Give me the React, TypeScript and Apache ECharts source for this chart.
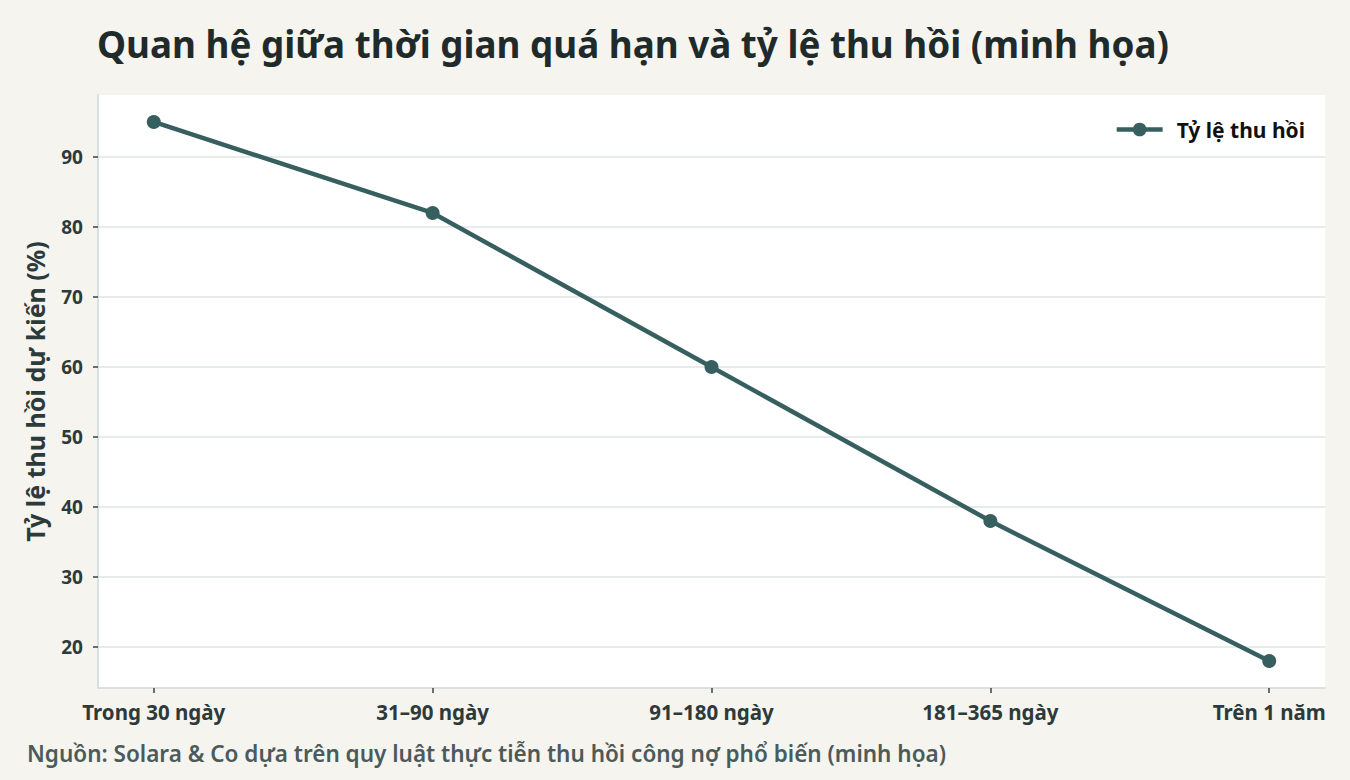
import React, { useEffect, useRef } from "react";
import * as echarts from "echarts";

const categories = ["Trong 30 ngày", "31–90 ngày", "91–180 ngày", "181–365 ngày", "Trên 1 năm"];
const recoveryRates = [95, 82, 60, 38, 18];
const yTicks = [20, 30, 40, 50, 60, 70, 80, 90];
const xTicks = [0, 1, 2, 3, 4];

const TITLE = "Quan hệ giữa thời gian quá hạn và tỷ lệ thu hồi (minh họa)";
const SOURCE = "Nguồn: Solara & Co dựa trên quy luật thực tiễn thu hồi công nợ phổ biến (minh họa)";
const SERIES_NAME = "Tỷ lệ thu hồi";
const Y_NAME = "Tỷ lệ thu hồi dự kiến (%)";

const FONT = "'Noto Sans', sans-serif";

export default function App() {
  const ref = useRef<HTMLDivElement>(null);
  useEffect(() => {
    document.body.style.margin = "0";
    if (!ref.current) return;
    const chart = echarts.init(ref.current, undefined, { renderer: "svg" });
    const data = recoveryRates.map((v, i) => [i, v]);
    chart.setOption({
      animation: false,
      backgroundColor: "#f5f4ef",
      textStyle: { fontFamily: FONT },
      title: {
        text: TITLE,
        left: 92,
        top: 20,
        textStyle: { fontFamily: FONT, fontSize: 36.8, fontWeight: "bold", color: "#1f2b2b" },
      },
      graphic: [
        {
          type: "text",
          left: 27,
          top: 742,
          style: { text: SOURCE, font: `600 22.5px ${FONT}`, fill: "#4b5a5a" },
        },
      ],
      legend: {
        right: 40,
        top: 114,
        itemWidth: 46,
        itemHeight: 17,
        itemGap: 10,
        lineStyle: { width: 4.5 },
        textStyle: { fontFamily: FONT, fontSize: 21, fontWeight: "bold", color: "#111", padding: [0, 0, 0, 9] },
        data: [SERIES_NAME],
      },
      grid: {
        left: 98,
        right: 25,
        top: 95,
        bottom: 92,
        show: true,
        backgroundColor: "#ffffff",
        borderWidth: 0,
      },
      xAxis: {
        type: "value",
        min: -0.2,
        max: 4.2,
        axisLine: { show: true, onZero: false, lineStyle: { color: "#d9e0e0", width: 2 } },
        axisTick: { show: true, length: 5, customValues: xTicks, lineStyle: { color: "#3a4545", width: 1.5 } },
        axisLabel: {
          customValues: xTicks,
          formatter: (v: number) => categories[Math.round(v)] ?? "",
          fontFamily: FONT,
          fontSize: 20.5,
          fontWeight: "bold",
          color: "#2d3a3a",
          margin: 13,
        },
        splitLine: { show: false },
      },
      yAxis: {
        type: "value",
        min: 14.15,
        max: 98.85,
        name: Y_NAME,
        nameLocation: "middle",
        nameRotate: 90,
        nameGap: 51,
        nameTextStyle: { fontFamily: FONT, fontSize: 25, fontWeight: "bold", color: "#2d3a3a" },
        axisLine: { show: true, onZero: false, lineStyle: { color: "#d9e0e0", width: 2 } },
        axisTick: { show: true, length: 5, customValues: yTicks, lineStyle: { color: "#3a4545", width: 1.5 } },
        axisLabel: {
          customValues: yTicks,
          fontFamily: FONT,
          fontSize: 19,
          fontWeight: "bold",
          color: "#2d3a3a",
          margin: 15,
        },
        splitLine: { show: true, lineStyle: { color: "#dfe5e5", width: 1.5 } },
      },
      series: [
        {
          name: SERIES_NAME,
          type: "line",
          data,
          symbol: "circle",
          symbolSize: 14,
          itemStyle: { color: "#375f5f" },
          lineStyle: { color: "#375f5f", width: 4.5 },
        },
      ],
    });
    return () => chart.dispose();
  }, []);
  return <div ref={ref} style={{ width: 1350, height: 780 }} />;
}
